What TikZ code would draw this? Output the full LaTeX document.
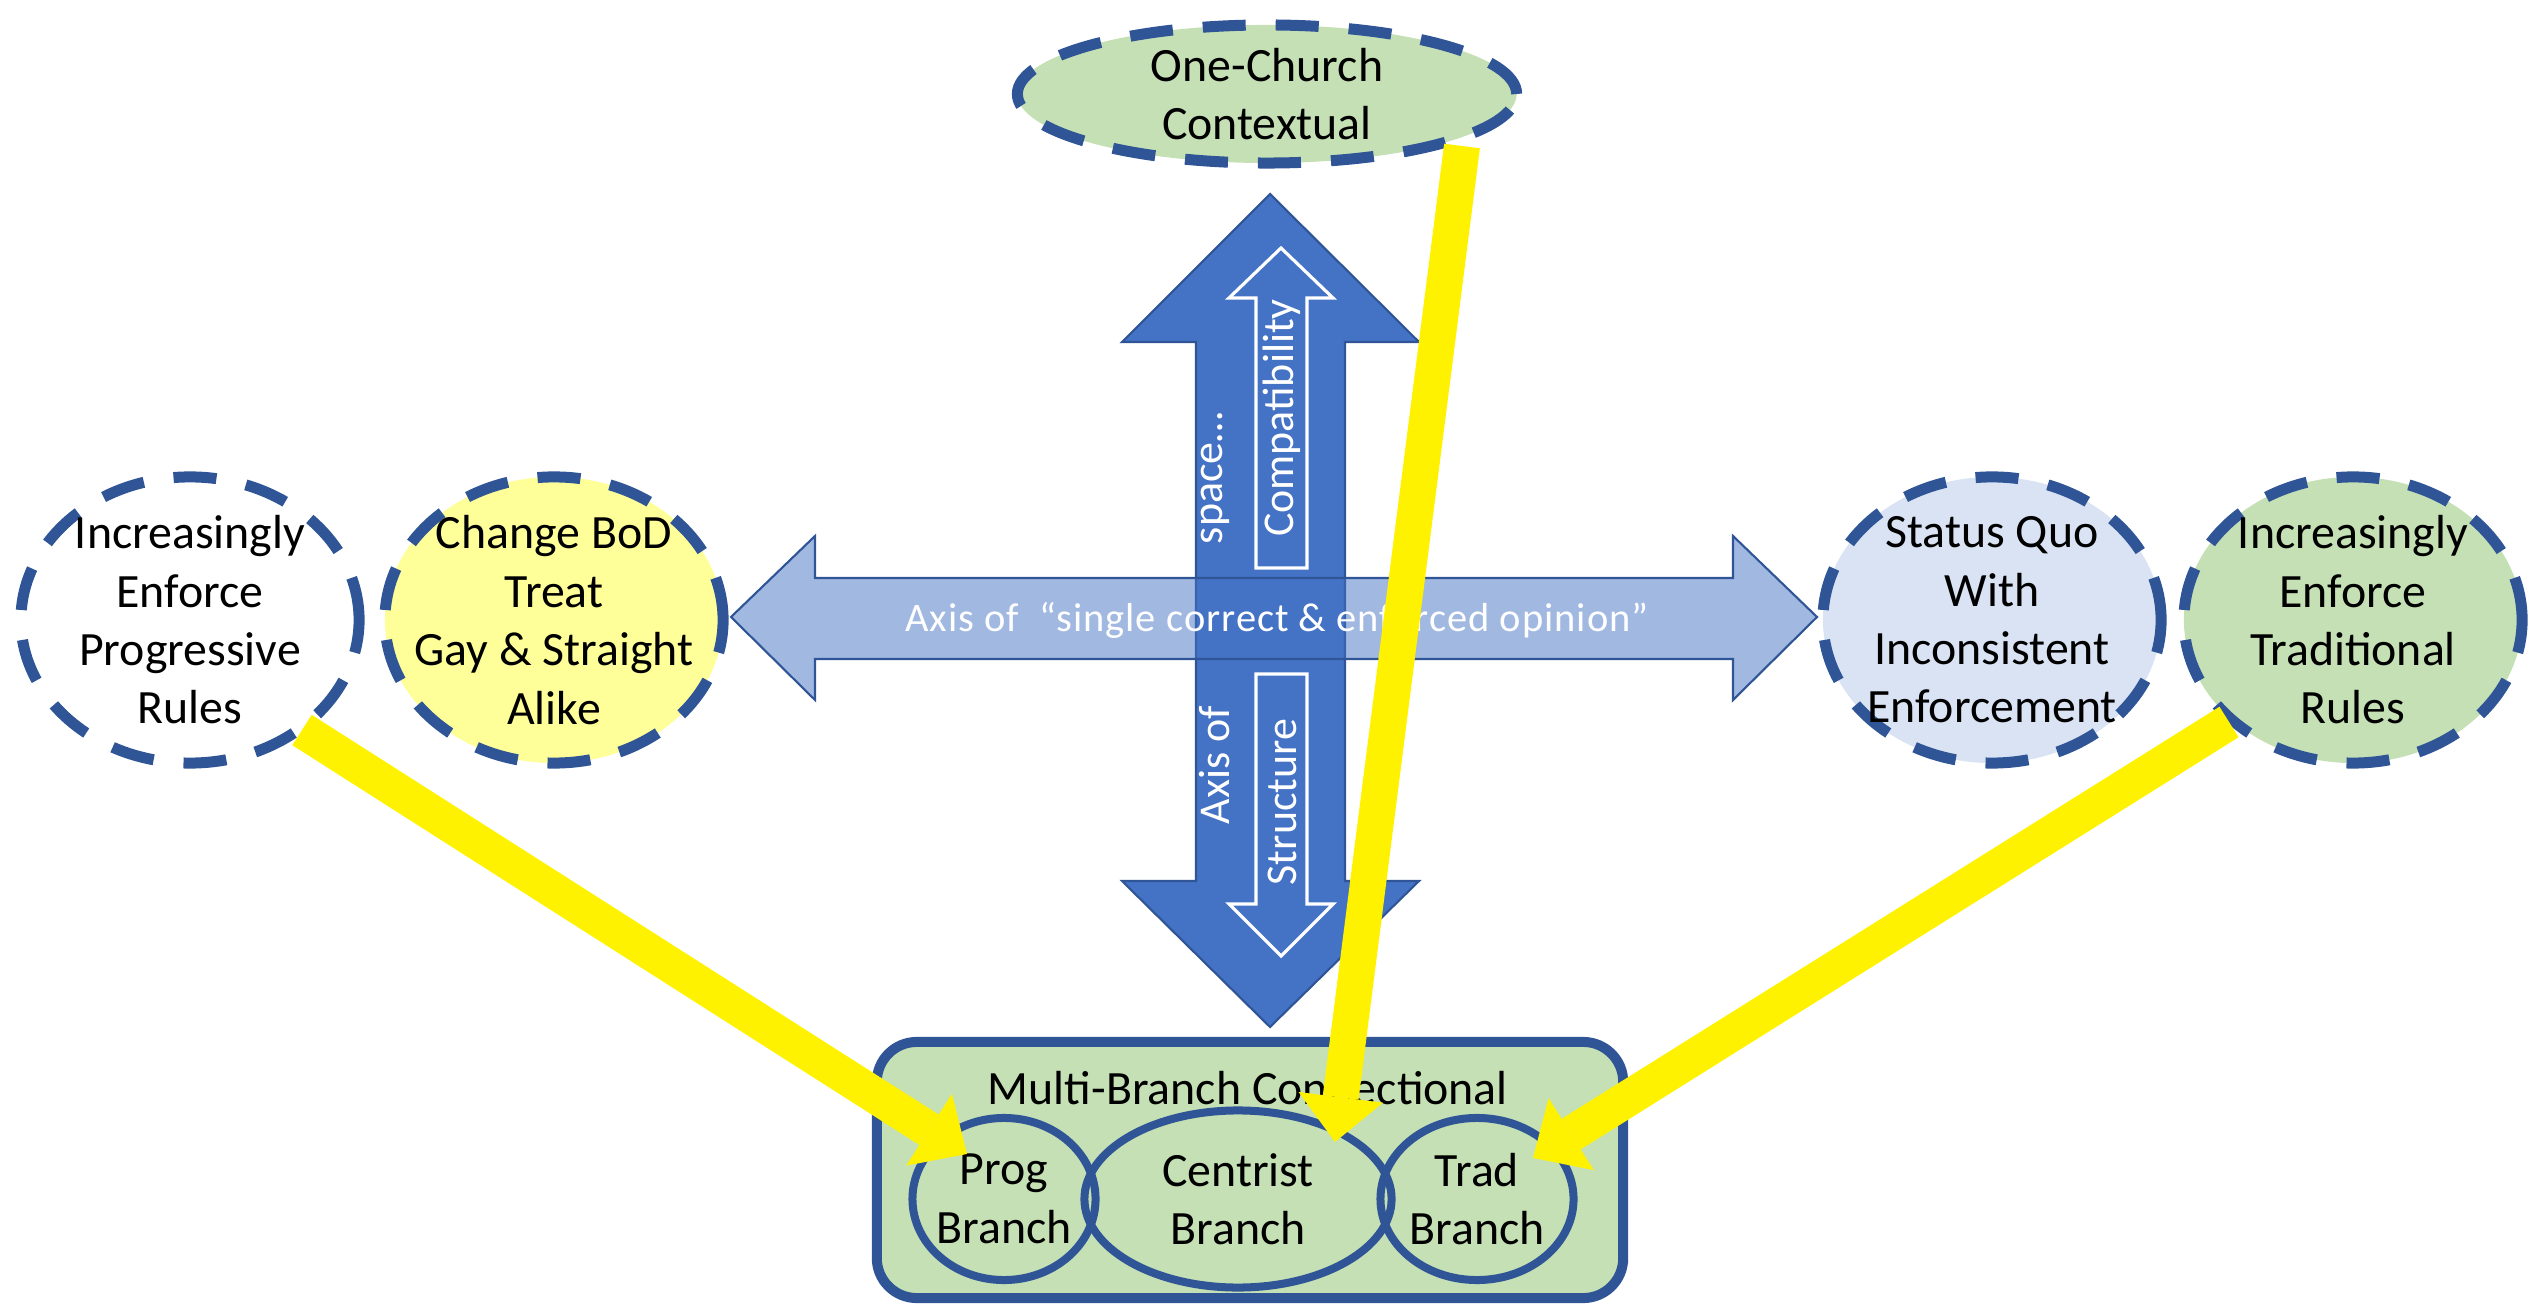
\documentclass[tikz,border=0pt]{standalone}
\usepackage{fontspec}
\setmainfont{Carlito}
\newfontfamily\axisfont[LetterSpace=2.5]{Carlito}
\usetikzlibrary{calc}
\usetikzlibrary{arrows.meta}
\usetikzlibrary{shapes.geometric}

\definecolor{ovalline}{HTML}{2F5597}
\definecolor{axisfill}{HTML}{4472C4}
\definecolor{yellowfill}{HTML}{FFFF99}
\definecolor{greenfill}{HTML}{C5E0B4}
\definecolor{bluefill}{HTML}{DAE3F3}

\tikzset{
  opinion/.style={ellipse, draw=ovalline, line width=0.11cm, dash pattern=on 0.43cm off 0.3cm, minimum width=3.38cm, minimum height=2.86cm},
  ovaltext/.style={align=center, inner sep=0pt, font=\fontsize{13.6}{16.6}\selectfont},
  branch/.style={ellipse, draw=ovalline, line width=0.08cm, minimum height=1.62cm},
  axistext/.style={white, rotate=90, inner sep=0pt, font=\fontsize{12.5}{15}\selectfont},
  shiftarrow/.style={yellow, line width=0.36cm, -{Triangle[width=0.85cm, length=0.45cm, line width=0pt]}},
}

\begin{document}
\begin{tikzpicture}[x=0.01cm, y=-0.01cm]
\useasboundingbox (0,0) rectangle (2531,1304);

\draw[fill=axisfill, draw=ovalline, line width=0.6pt] (1270,194) -- (1419,342) -- (1345,342) -- (1345,881) -- (1419,881) -- (1270,1027) -- (1122,881) -- (1196,881) -- (1196,342) -- (1122,342) -- cycle;
\draw[fill=axisfill, fill opacity=0.5, draw=ovalline, line width=0.6pt] (731,617) -- (815,536) -- (815,578) -- (1733,578) -- (1733,536) -- (1817,617) -- (1733,700) -- (1733,659) -- (815,659) -- (815,700) -- cycle;

\draw[white, line width=0.9pt] (1281,248) -- (1333,298) -- (1307,298) -- (1307,568) -- (1256,568) -- (1256,298) -- (1229,298) -- cycle;
\draw[white, line width=0.9pt] (1281,956) -- (1333,904) -- (1307,904) -- (1307,674) -- (1256,674) -- (1256,904) -- (1229,904) -- cycle;

\node[axistext] (space) at (1215,478) {space…};
\node[axistext] (axisof) at (1215,765) {Axis of};
\node[axistext] (compat) at (1282,418) {Compatibility};
\node[axistext] (struct) at (1282,802) {Structure};
\node[white, inner sep=0pt, font=\axisfont\fontsize{11.5}{13}\selectfont] (axistitle) at (1277,620) {Axis of~ “single correct \& enforced opinion”};

\node[opinion, label={[ovaltext]center:Increasingly\\Enforce\\Progressive\\Rules}] (progrules) at (190,620) {};
\node[opinion, fill=yellowfill, label={[ovaltext]center:Change BoD\\Treat\\Gay \& Straight\\Alike}] (treatalike) at (554,620) {};
\node[opinion, fill=bluefill, label={[ovaltext]center:Status Quo\\With\\Inconsistent\\Enforcement}] (statusquo) at (1992,620) {};
\node[opinion, fill=greenfill, label={[ovaltext]center:Increasingly\\Enforce\\Traditional\\Rules}] (tradrules) at (2353,620) {};
\node[opinion, fill=greenfill, minimum width=4.99cm, minimum height=1.38cm, label={[ovaltext]center:One-Church\\Contextual}] (onechurch) at (1267,94) {};

\node[draw=ovalline, line width=0.1cm, fill=greenfill, rounded corners=0.4cm, minimum width=7.46cm, minimum height=2.56cm] (multibranch) at (1250,1170) {};
\node[ovaltext] (multititle) at (1248,1088) {Multi-Branch Connectional};
\node[branch, minimum width=1.83cm, label={[ovaltext]center:Prog\\Branch}] (prog) at (1004,1199) {};
\node[branch, minimum width=3.07cm, minimum height=1.77cm, label={[ovaltext]center:Centrist\\Branch}] (centrist) at (1238,1199) {};
\node[branch, minimum width=1.93cm, label={[ovaltext]center:Trad\\Branch}] (trad) at (1477,1199) {};

\draw[shiftarrow] ($(progrules)+(112,110)$) -- ($(prog)+(-37,-45)$);
\draw[shiftarrow] ($(onechurch)+(195,52)$) -- ($(centrist)+(97,-57)$);
\draw[shiftarrow] ($(tradrules)+(-124,102)$) -- ($(trad)+(56,-41)$);

\end{tikzpicture}
\end{document}
